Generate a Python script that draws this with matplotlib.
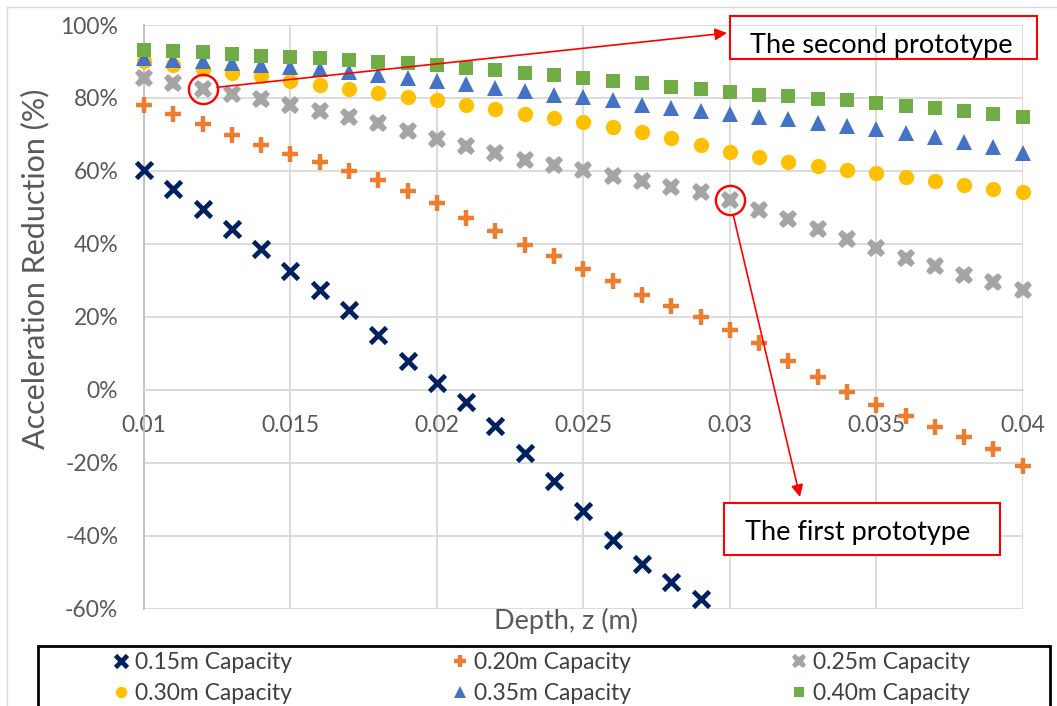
"""Acceleration reduction vs. depth for six damper capacities."""
import matplotlib
matplotlib.use("Agg")
import matplotlib.pyplot as plt
from matplotlib.lines import Line2D
from matplotlib.patches import Rectangle

# ---- Data -------------------------------------------------------------

depth = [0.010, 0.011, 0.012, 0.013, 0.014, 0.015, 0.016, 0.017, 0.018, 0.019,
         0.020, 0.021, 0.022, 0.023, 0.024, 0.025, 0.026, 0.027, 0.028, 0.029,
         0.030, 0.031, 0.032, 0.033, 0.034, 0.035, 0.036, 0.037, 0.038, 0.039,
         0.040]

# reduction in %, one list per capacity (0.15m leaves the axis after 0.029)
cap_015 = [60.3, 55.1, 49.6, 44.1, 38.6, 32.6, 27.2, 21.9, 15.1, 7.8,
           1.8, -3.5, -9.9, -17.4, -25.1, -33.3, -41.1, -47.9, -52.8, -57.3]
cap_020 = [78.1, 75.5, 72.9, 69.9, 67.1, 64.7, 62.4, 60.0, 57.5, 54.5,
           51.2, 47.2, 43.6, 39.7, 36.6, 33.2, 29.7, 26.0, 23.0, 19.8,
           16.4, 12.8, 8.0, 3.4, -0.7, -4.3, -7.3, -10.2, -13.0, -16.4,
           -20.8]
cap_025 = [85.6, 84.0, 82.5, 81.0, 79.7, 78.1, 76.4, 74.7, 73.1, 71.0,
           68.8, 66.7, 64.8, 63.0, 61.6, 60.3, 58.7, 57.1, 55.7, 54.1,
           51.9, 49.3, 46.9, 44.1, 41.4, 38.8, 36.1, 33.8, 31.5, 29.5,
           27.2]
cap_030 = [90.0, 89.0, 87.9, 86.9, 86.0, 84.7, 83.6, 82.4, 81.3, 80.2,
           79.5, 78.2, 76.9, 75.5, 74.4, 73.3, 72.1, 70.6, 69.0, 67.1,
           65.3, 63.8, 62.5, 61.4, 60.3, 59.4, 58.4, 57.3, 56.2, 55.1,
           54.3]
cap_035 = [90.9, 90.5, 90.0, 89.5, 89.0, 88.5, 87.9, 87.2, 86.3, 85.6,
           84.7, 83.7, 82.7, 81.9, 80.8, 80.2, 79.5, 78.1, 77.2, 76.3,
           75.6, 74.8, 74.1, 73.1, 72.3, 71.4, 70.3, 69.2, 67.8, 66.5,
           64.8]
cap_040 = [93.2, 92.9, 92.5, 92.1, 91.6, 91.3, 90.9, 90.4, 89.9, 89.5,
           88.9, 88.1, 87.7, 86.9, 86.3, 85.6, 84.7, 84.0, 83.1, 82.5,
           81.7, 80.9, 80.4, 79.7, 79.3, 78.7, 77.9, 77.2, 76.4, 75.6,
           74.9]

labels = ["0.15m Capacity", "0.20m Capacity", "0.25m Capacity",
          "0.30m Capacity", "0.35m Capacity", "0.40m Capacity"]

x_ticks = [0.01, 0.015, 0.02, 0.025, 0.03, 0.035, 0.04]
y_ticks = [-60, -40, -20, 0, 20, 40, 60, 80, 100]

# index of the highlighted 0.25m points
second_proto = 2   # z = 0.012
first_proto = 20   # z = 0.030

# ---- Style ------------------------------------------------------------

W, H = 1057, 706
FONT = "Lato"
TICK = "#595959"
GRID = "#d9d9d9"
AXIS = "#bfbfbf"

plt.rcParams.update({
    "font.family": [FONT, "DejaVu Sans"],
    "figure.dpi": 100,
    "savefig.dpi": 100,
})


def fpx(x, y):
    """image pixel (top-left origin) -> figure fraction"""
    return x / W, 1 - y / H


series = [
    (cap_015, dict(marker="x", color="#002060", ms=11, mew=3.4)),
    (cap_020, dict(marker="+", color="#ED7D31", ms=12, mew=3.2)),
    (cap_025, dict(marker="X", color="#A5A5A5", ms=13.5, mew=0)),
    (cap_030, dict(marker="o", color="#FFC000", ms=11, mew=0)),
    (cap_035, dict(marker="^", color="#4472C4", ms=11.5, mew=0)),
    (cap_040, dict(marker="s", color="#70AD47", ms=10, mew=0)),
]

# ---- Figure -----------------------------------------------------------

fig = plt.figure(figsize=(W / 100, H / 100))
x0, y_top = fpx(144, 25)
x1, y_bot = fpx(1022.7, 608.5)
ax = fig.add_axes([x0, y_bot, x1 - x0, y_top - y_bot])

for vals, kw in series:
    ax.plot(depth[:len(vals)], vals, linestyle="none", clip_on=False,
            zorder=3, **kw)

ax.set_xlim(0.01, 0.04)
ax.set_ylim(-60, 100)
ax.set_xticks(x_ticks)
ax.set_xticklabels([f"{t:g}" for t in x_ticks])
ax.set_yticks(y_ticks)
ax.set_yticklabels([f"{t}%" for t in y_ticks])
ax.grid(True, color=GRID, linewidth=1.3)
ax.set_axisbelow(True)

for side in ("top", "right"):
    ax.spines[side].set_visible(False)
ax.spines["left"].set_color(AXIS)
ax.spines["left"].set_linewidth(1.3)
ax.spines["bottom"].set_position(("data", 0))
ax.spines["bottom"].set_color(GRID)
ax.spines["bottom"].set_linewidth(1.3)
ax.tick_params(axis="both", length=0, labelsize=16.5, labelcolor=TICK)
ax.tick_params(axis="x", pad=18)
ax.tick_params(axis="y", pad=18.5)

fig.text(*fpx(566, 621), "Depth, z (m)", ha="center", va="center",
         fontsize=19.5, color=TICK)
fig.text(*fpx(35, 269), "Acceleration Reduction (%)", ha="center",
         va="center", rotation=90, fontsize=22, color=TICK)

# highlight rings on the two prototypes
for i in (second_proto, first_proto):
    ax.plot([depth[i]], [cap_025[i]], marker="o", ms=21, mfc="none",
            mec="red", mew=1.7, linestyle="none", clip_on=False, zorder=4)

# callout boxes + arrows (upper box is see-through, lower one is filled)
for (bx0, by0, bx1, by1), filled, (tx, ty), txt, tip, i in [
    ((730, 16, 1037, 59), False, (750, 52.7), "The second prototype", (727, 33), second_proto),
    ((724, 503, 1000, 555), True, (745, 540), "The first prototype", (800, 497), first_proto),
]:
    lx, ly = fpx(bx0, by1)
    fig.patches.append(Rectangle((lx, ly), (bx1 - bx0) / W, (by1 - by0) / H,
                                 transform=fig.transFigure, fill=filled,
                                 facecolor="white", edgecolor="red",
                                 linewidth=1.5, zorder=5))
    fig.text(*fpx(tx, ty), txt, ha="left", va="baseline", fontsize=19.5,
             color="black", zorder=6)
    ax.annotate("", xy=fpx(*tip), xycoords="figure fraction",
                xytext=(depth[i], cap_025[i]), textcoords="data",
                arrowprops=dict(arrowstyle="-|>", color="red", lw=1.2,
                                shrinkA=10.5, shrinkB=0, mutation_scale=18),
                zorder=5)

# chart area border and legend frame
fig.patches.append(Rectangle(fpx(7, 760), 1.2, (760 - 7) / H,
                             transform=fig.transFigure, fill=False,
                             edgecolor=GRID, linewidth=1))
fig.patches.append(Rectangle(fpx(38, 760), (1050 - 38) / W, (760 - 646) / H,
                             transform=fig.transFigure, fill=False,
                             edgecolor="black", linewidth=2))

# legend laid out row-wise: one small two-row legend per column
for col, left in enumerate((110.5, 449.5, 788.5)):
    idx = [col, col + 3]
    hs = [Line2D([], [], linestyle="none", **series[k][1]) for k in idx]
    fig.legend(hs, [labels[k] for k in idx], loc="upper left",
               bbox_to_anchor=fpx(left, 652), frameon=False, fontsize=16.5,
               labelcolor="#404040", markerscale=0.75, handlelength=0.9,
               handletextpad=0.15, labelspacing=0.42, borderpad=0,
               borderaxespad=0)

fig.savefig("out.png")
